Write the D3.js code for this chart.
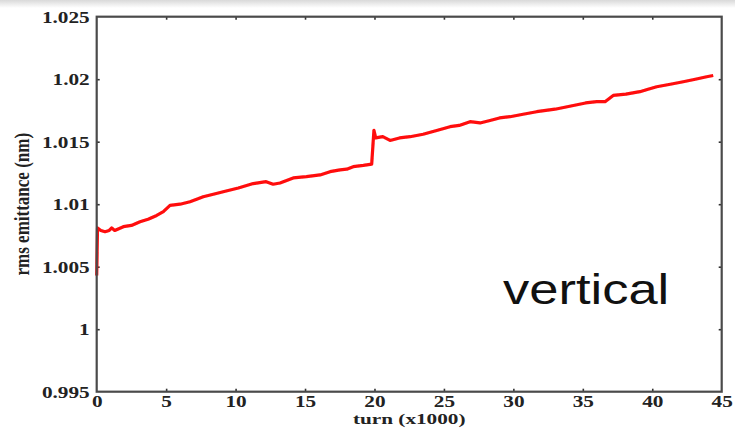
<!DOCTYPE html>
<html>
<head>
<meta charset="utf-8">
<script src="https://cdn.jsdelivr.net/npm/d3@7/dist/d3.min.js"></script>
<style>
  html, body { margin: 0; padding: 0; background: #fff; }
  svg { display: block; }
</style>
</head>
<body>
<svg id="chart" width="735" height="428"></svg>
<script>
// Turn number (in thousands) and vertical rms emittance (nm)
const turns = [0, 0.06, 0.3, 0.6, 0.9, 1.08, 1.3, 1.92, 2.5, 3.12, 3.7, 4.32,
  4.8, 5.28, 6.0, 6.72, 7.2, 7.67, 8.4, 9.11, 10.2, 11.27, 12.2, 12.7, 13.2,
  14.15, 15.1, 16.08, 16.8, 17.52, 18.0, 18.47, 19.2, 19.8, 19.96, 20.09,
  20.6, 21.12, 21.8, 22.56, 23.5, 24.48, 25.44, 26.1, 26.88, 27.6, 28.32,
  29.0, 29.76, 30.7, 31.68, 33.0, 34.32, 35.2, 36.0, 36.6, 37.19, 38.1,
  39.11, 39.7, 40.32, 41.3, 42.23, 43.1, 43.92, 44.39];
const emittance = [1.0043, 1.0081, 1.0079, 1.0078, 1.0079, 1.0081, 1.0079,
  1.0082, 1.0083, 1.0086, 1.0088, 1.0091, 1.0094, 1.0099, 1.0100, 1.0102,
  1.0104, 1.0106, 1.0108, 1.0110, 1.0113, 1.01165, 1.0118, 1.0116, 1.0117,
  1.0121, 1.0122, 1.01234, 1.0126, 1.01274, 1.0128, 1.0130, 1.0131, 1.0132,
  1.0159, 1.0153, 1.0154, 1.0151, 1.0153, 1.0154, 1.0156, 1.0159, 1.0162,
  1.0163, 1.0166, 1.0165, 1.0167, 1.0169, 1.0170, 1.0172, 1.0174, 1.0176,
  1.0179, 1.0181, 1.0182, 1.0182, 1.0187, 1.0188, 1.0190, 1.0192, 1.0194,
  1.0196, 1.0198, 1.0200, 1.0202, 1.0203];

const xTicks = [0, 5, 10, 15, 20, 25, 30, 35, 40, 45];
const yTicks = [0.995, 1.0, 1.005, 1.01, 1.015, 1.02, 1.025];
const yTickLabels = ["0.995", "1", "1.005", "1.01", "1.015", "1.02", "1.025"];

const xTitle = "turn (x1000)";
const yTitle = "rms emittance (nm)";
const planeLabel = "vertical";

const svg = d3.select("#chart");
const W = 735, H = 428;
const m = { left: 96.7, top: 16.7, right: 735 - 721.7, bottom: 428 - 391.7 };
const iw = W - m.left - m.right, ih = H - m.top - m.bottom;

// faint shadow band across the top edge
const defs = svg.append("defs");
const grad = defs.append("linearGradient").attr("id", "topShade")
  .attr("x1", 0).attr("y1", 0).attr("x2", 0).attr("y2", 1);
grad.append("stop").attr("offset", "0%").attr("stop-color", "#d9d9d9");
grad.append("stop").attr("offset", "100%").attr("stop-color", "#ffffff");
defs.append("filter").attr("id", "soft")
  .append("feGaussianBlur").attr("stdDeviation", 0.5);

svg.append("rect").attr("width", W).attr("height", H).attr("fill", "#fff");
svg.append("rect").attr("width", W).attr("height", 8).attr("fill", "url(#topShade)");

const x = d3.scaleLinear().domain([0, 45]).range([0, iw]);
const y = d3.scaleLinear().domain([0.995, 1.025]).range([ih, 0]);

const g = svg.append("g").attr("transform", `translate(${m.left},${m.top})`);

const serif = "'Liberation Serif', 'DejaVu Serif', serif";
const stretch = 1.25;

function styleAxis(sel, withText, size) {
  sel.select(".domain").remove();
  sel.selectAll(".tick line").attr("stroke", "#333").attr("stroke-width", 1.6);
  if (withText) {
    sel.selectAll(".tick text")
      .attr("font-family", serif)
      .attr("font-weight", "bold")
      .attr("font-size", size)
      .attr("fill", "#222");
  } else {
    sel.selectAll(".tick text").remove();
  }
}

// bottom axis with labels
const gx = g.append("g").attr("transform", `translate(0,${ih})`)
  .call(d3.axisBottom(x).tickValues(xTicks).tickSize(-3).tickPadding(4)
    .tickFormat(d3.format("d")));
styleAxis(gx, true, 16);
gx.selectAll(".tick text").attr("transform", `scale(${stretch * 17 / 16},1)`);
gx.selectAll(".tick").filter(d => d === 0 || d === 45).select("line").remove();

// left axis with labels
const gy = g.append("g")
  .call(d3.axisLeft(y).tickValues(yTicks).tickSize(-3).tickPadding(7)
    .tickFormat((d, i) => yTickLabels[i]));
styleAxis(gy, true, 17);
gy.selectAll(".tick text").attr("transform", `scale(${stretch},1)`)
  .attr("x", -7 / stretch);
gy.selectAll(".tick").filter((d, i) => i === 0 || i === yTicks.length - 1).select("line").remove();

// top and right mirror ticks
const gt = g.append("g").call(d3.axisTop(x).tickValues(xTicks.slice(1, -1)).tickSize(-3));
styleAxis(gt, false);
const gr = g.append("g").attr("transform", `translate(${iw},0)`)
  .call(d3.axisRight(y).tickValues(yTicks.slice(1, -1)).tickSize(-3));
styleAxis(gr, false);

// data line
const line = d3.line().x((d, i) => x(turns[i])).y((d, i) => y(emittance[i]));
g.append("path")
  .datum(emittance)
  .attr("d", line)
  .attr("fill", "none")
  .attr("stroke", "#ff0a0a")
  .attr("stroke-width", 3.2)
  .attr("stroke-linejoin", "round")
  .attr("filter", "url(#soft)");

// frame
g.append("rect")
  .attr("width", iw).attr("height", ih)
  .attr("fill", "none")
  .attr("stroke", "#4a4a4a")
  .attr("stroke-width", 2.2);

// axis titles
g.append("text")
  .attr("transform", `translate(${iw / 2},${ih + 32.3}) scale(${stretch * 17 / 15},1)`)
  .attr("text-anchor", "middle")
  .attr("font-family", serif).attr("font-weight", "bold").attr("font-size", 15)
  .attr("fill", "#222")
  .text(xTitle);

svg.append("text")
  .attr("transform", `translate(29,${m.top + ih / 2}) rotate(-90) scale(1,${stretch})`)
  .attr("text-anchor", "middle")
  .attr("font-family", serif).attr("font-weight", "bold").attr("font-size", 17)
  .attr("fill", "#222")
  .text(yTitle);

// plane annotation
svg.append("text")
  .attr("transform", `translate(503,304) scale(${stretch},1)`)
  .attr("font-family", "'Liberation Sans', Arial, sans-serif")
  .attr("font-size", 42)
  .attr("fill", "#111")
  .text(planeLabel);
</script>
</body>
</html>
